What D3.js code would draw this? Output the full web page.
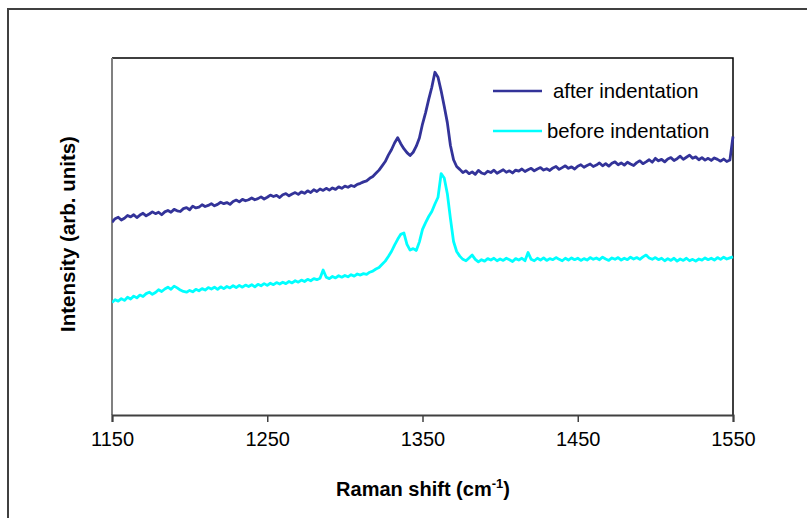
<!DOCTYPE html>
<html><head><meta charset="utf-8">
<script src="https://cdn.jsdelivr.net/npm/d3@7"></script>
<style>body{margin:0;background:#fff}svg{display:block}</style>
</head><body>
<script>
const waveNumbers = d3.range(1150, 1551, 2);
const afterIndentation = [
54.0,55.0,55.4,54.6,55.1,55.9,55.5,56.1,55.3,56.0,
56.5,55.8,56.3,56.9,56.4,56.8,56.1,56.9,57.3,56.8,
57.6,57.2,57.0,57.8,58.1,57.5,58.5,58.0,58.2,58.9,
58.4,58.7,59.2,58.6,59.0,59.6,59.2,59.5,59.0,59.8,
60.2,59.7,60.4,60.0,60.3,60.8,60.3,60.6,61.1,60.5,
61.0,61.6,61.2,61.5,60.9,61.7,62.0,61.4,61.9,62.3,
61.8,62.5,62.1,62.8,62.3,63.1,62.6,63.3,62.9,63.5,
63.0,63.6,63.2,63.9,63.5,64.1,63.8,64.3,64.0,64.6,
64.9,65.3,65.6,66.3,66.8,67.7,68.6,69.8,71.0,72.8,
74.3,76.2,77.7,76.0,74.6,73.5,72.7,73.6,75.3,77.6,
81.5,84.7,88.4,91.8,96.0,94.6,90.8,86.5,81.9,75.5,
71.5,69.6,68.8,67.9,68.4,67.6,68.1,67.4,68.5,67.8,
67.5,68.3,67.9,68.6,67.7,68.2,68.7,68.0,68.4,67.8,
68.6,68.3,68.9,68.2,68.7,69.1,68.4,68.9,69.3,68.6,
69.0,68.5,69.2,69.6,68.8,69.3,69.8,69.1,69.5,68.9,
69.7,70.1,69.4,69.9,70.3,69.6,70.0,70.6,69.8,70.4,
69.7,70.5,70.9,70.1,70.6,70.0,70.8,70.3,69.9,70.7,
71.2,70.4,70.9,71.5,70.8,71.9,71.2,71.6,70.9,71.7,
72.1,71.3,71.8,72.5,71.6,72.2,72.8,71.9,72.3,71.5,
72.1,71.4,71.9,71.3,72.0,71.6,71.1,71.7,71.0,71.4,
78.0];
const beforeIndentation = [
31.5,32.3,31.9,32.6,32.1,33.0,32.5,33.3,32.8,33.6,
33.2,34.0,34.4,33.8,34.3,35.1,34.6,35.3,35.8,35.2,
36.1,35.6,35.0,34.6,34.4,34.9,34.5,35.2,34.8,35.4,
35.0,35.7,35.3,35.8,35.2,35.9,35.4,36.0,35.6,36.2,
35.7,36.3,35.8,36.4,36.0,36.5,35.9,36.6,36.2,36.8,
36.3,36.9,36.5,37.1,36.7,37.2,36.8,37.4,37.0,37.6,
37.2,37.8,37.4,38.0,37.6,38.2,37.9,38.3,40.6,38.6,
38.2,38.8,38.4,39.0,38.6,39.1,38.7,39.3,38.9,39.5,
39.2,39.6,39.4,40.0,40.3,40.9,41.3,42.2,43.1,44.4,
45.8,47.6,49.2,50.6,51.0,47.8,46.2,46.6,46.1,48.5,
52.0,53.9,55.6,57.0,59.1,61.0,67.6,66.4,62.0,55.0,
48.6,45.8,44.5,43.6,43.2,44.0,44.8,43.6,42.9,43.5,
43.1,43.8,43.4,43.9,43.2,43.7,43.3,43.9,43.5,43.0,
43.8,43.4,43.9,43.2,45.5,43.6,43.2,43.9,43.4,44.0,
43.3,43.8,43.5,44.1,43.6,43.2,43.9,43.4,44.0,43.5,
43.9,43.3,43.8,43.4,44.1,43.6,44.0,43.5,44.2,43.7,
43.3,44.0,43.6,44.1,43.4,43.9,43.5,44.2,43.7,44.1,
43.6,44.3,44.8,44.0,43.6,44.1,43.5,43.9,43.2,43.8,
43.3,43.9,43.1,43.7,43.3,43.9,43.2,43.6,43.1,43.7,
43.4,44.0,43.5,43.9,43.4,44.1,43.6,44.2,43.7,44.0,
44.3];
const xTicks = [1150, 1250, 1350, 1450, 1550];
const seriesNames = ["after indentation", "before indentation"];
const seriesColors = ["#333399", "#00FFFF"];

const W = 807, H = 518;
const m = {left: 112, right: 733, top: 58, bottom: 415};
const svg = d3.select("body").append("svg").attr("width", W).attr("height", H);
const font = "'Liberation Sans', Arial, sans-serif";

// outer chart border (extends off canvas right/bottom)
svg.append("path").attr("d", `M8,${H+5} L8,9 L${W+5},9`)
  .attr("fill", "none").attr("stroke", "#404040").attr("stroke-width", 2);

const x = d3.scaleLinear().domain([1150, 1550]).range([m.left, m.right]);
const y = d3.scaleLinear().domain([0, 100]).range([m.bottom, m.top]);

// plot frame top/right
svg.append("path").attr("d", `M${m.left},${m.top} L${m.right},${m.top} L${m.right},${m.bottom}`)
  .attr("fill", "none").attr("stroke", "#000").attr("stroke-width", 1.5);
// left axis line
svg.append("line").attr("x1", m.left).attr("x2", m.left).attr("y1", m.top).attr("y2", m.bottom)
  .attr("stroke", "#808080").attr("stroke-width", 2);

svg.append("clipPath").attr("id", "c").append("rect")
  .attr("x", m.left).attr("y", m.top - 2).attr("width", m.right - m.left + 2).attr("height", m.bottom - m.top + 2);

const line = d3.line().x((d, i) => x(waveNumbers[i])).y(d => y(d));
[afterIndentation, beforeIndentation].forEach((s, k) => {
  svg.append("path").datum(s).attr("d", line).attr("clip-path", "url(#c)")
    .attr("fill", "none").attr("stroke", seriesColors[k]).attr("stroke-width", 2.8)
    .attr("stroke-linejoin", "round");
});

// x axis
const gx = svg.append("g").attr("transform", `translate(0,${m.bottom})`)
  .call(d3.axisBottom(x).tickValues(xTicks).tickSize(7).tickPadding(10).tickFormat(d3.format("d")));
gx.select(".domain").attr("stroke", "#404040").attr("stroke-width", 2);
gx.selectAll(".tick line").attr("stroke", "#404040").attr("stroke-width", 1.5);
gx.selectAll(".tick text").attr("font-family", font).attr("font-size", 20).attr("fill", "#000");

// axis titles
const xt = svg.append("text").attr("x", 423).attr("y", 496).attr("text-anchor", "middle")
  .attr("font-family", font).attr("font-size", 20).attr("font-weight", "bold");
xt.append("tspan").text("Raman shift (cm");
xt.append("tspan").attr("font-size", 13).attr("dy", -8).text("-1");
xt.append("tspan").attr("dy", 8).text(")");

svg.append("text").attr("transform", "translate(75,234) rotate(-90)").attr("text-anchor", "middle")
  .attr("font-family", font).attr("font-size", 20.5).attr("font-weight", "bold").text("Intensity (arb. units)");

// legend
const leg = [{y: 91, tx: 553}, {y: 131, tx: 547}];
leg.forEach((l, k) => {
  svg.append("line").attr("x1", 493).attr("x2", 542).attr("y1", l.y).attr("y2", l.y)
    .attr("stroke", seriesColors[k]).attr("stroke-width", 2.6);
  svg.append("text").attr("x", l.tx).attr("y", l.y + 7).attr("font-family", font)
    .attr("font-size", 20.3).attr("fill", "#000").text(seriesNames[k]);
});
</script>
</body></html>
